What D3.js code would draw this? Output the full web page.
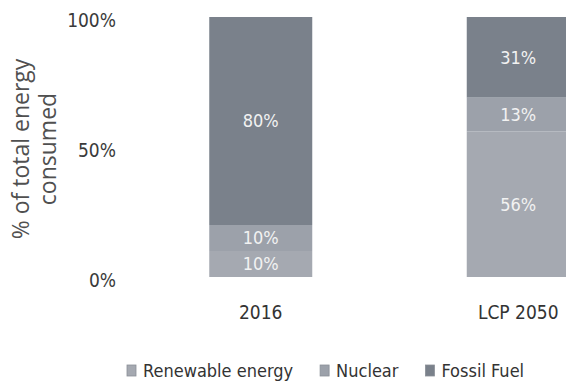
<!DOCTYPE html>
<html>
<head>
<meta charset="utf-8">
<script src="https://cdn.jsdelivr.net/npm/d3@7"></script>
<style>
  body { margin: 0; background: #fff; }
  svg { display: block; }
  .narrow { font-family: "DejaVu Sans Condensed", "DejaVu Sans", sans-serif; font-stretch: condensed; }
</style>
</head>
<body>
<svg width="566" height="388"></svg>
<script>
var width = 566,
    height = 388;

// data
const categories = ["2016", "LCP 2050"];
const series = ["Renewable energy", "Nuclear", "Fossil Fuel"];
const renewable = [10, 56];
const nuclear = [10, 13];
const fossil = [80, 31];
const tick_values = [0, 50, 100];
const colors = ["#a5a9b1", "#9ca1aa", "#7a818b"];

const svg = d3.select("svg");

// build rows for the stack
const rows = categories.map(function (cat, i) {
    return {
        category: cat,
        "Renewable energy": renewable[i],
        "Nuclear": nuclear[i],
        "Fossil Fuel": fossil[i]
    };
});
const stacked = d3.stack().keys(series)(rows);

const x = d3.scaleBand()
    .domain(categories)
    .range([132, 647])
    .paddingInner(0.6)
    .paddingOuter(0.3);

const y = d3.scaleLinear()
    .domain([0, 100])
    .range([277, 17]);

const color = d3.scaleOrdinal().domain(series).range(colors);

// bars
svg.append("g")
    .selectAll("g")
    .data(stacked)
    .join("g")
    .attr("fill", function (d) { return color(d.key); })
    .selectAll("rect")
    .data(function (d) { return d; })
    .join("rect")
    .attr("x", function (d) { return x(d.data.category); })
    .attr("y", function (d) { return y(d[1]); })
    .attr("width", x.bandwidth())
    .attr("height", function (d) { return y(d[0]) - y(d[1]); });

// value labels inside the segments
svg.append("g")
    .selectAll("g")
    .data(stacked)
    .join("g")
    .selectAll("text")
    .data(function (d) { return d; })
    .join("text")
    .attr("class", "narrow")
    .attr("x", function (d) { return x(d.data.category) + x.bandwidth() / 2; })
    .attr("y", function (d) { return y((d[0] + d[1]) / 2); })
    .attr("dy", "0.36em")
    .attr("text-anchor", "middle")
    .attr("font-size", 18)
    .attr("fill", "#f2f2f2")
    .text(function (d) { return (d[1] - d[0]) + "%"; });

// y axis (labels only)
const yAxis = svg.append("g")
    .attr("transform", "translate(116,3)")
    .call(d3.axisLeft(y).tickValues(tick_values).tickSize(0).tickPadding(0)
        .tickFormat(function (d) { return d + "%"; }));
yAxis.select(".domain").remove();
yAxis.attr("font-family", null);
yAxis.selectAll("text")
    .attr("class", "narrow")
    .attr("font-size", 19)
    .attr("fill", "#3a3a3a");

// x axis (labels only)
const xAxis = svg.append("g")
    .attr("transform", "translate(0,300)")
    .call(d3.axisBottom(x).tickSize(0).tickPadding(6));
xAxis.select(".domain").remove();
xAxis.attr("font-family", null);
xAxis.selectAll("text")
    .attr("class", "narrow")
    .attr("font-size", 19)
    .attr("fill", "#333");

// y axis title
const title = svg.append("text")
    .attr("transform", "translate(29,149) rotate(-90)")
    .attr("text-anchor", "middle")
    .attr("font-family", "Open Sans, sans-serif")
    .attr("font-size", 23)
    .attr("fill", "#505050");
title.append("tspan").attr("x", 0).attr("dy", 0).text("% of total energy");
title.append("tspan").attr("x", 0).attr("dy", 27).text("consumed");

// legend
const legend = svg.append("g").attr("transform", "translate(127,377)");
var lx = 0;
series.forEach(function (s) {
    legend.append("rect")
        .attr("x", lx)
        .attr("y", -12)
        .attr("width", 9)
        .attr("height", 11)
        .attr("fill", color(s))
        .attr("stroke", "#8a8f97")
        .attr("stroke-width", 0.8);
    const t = legend.append("text")
        .attr("class", "narrow")
        .attr("x", lx + 16)
        .attr("y", 0)
        .attr("font-size", 18)
        .attr("fill", "#333")
        .text(s);
    lx += 16 + t.node().getComputedTextLength() + 27;
});
</script>
</body>
</html>
